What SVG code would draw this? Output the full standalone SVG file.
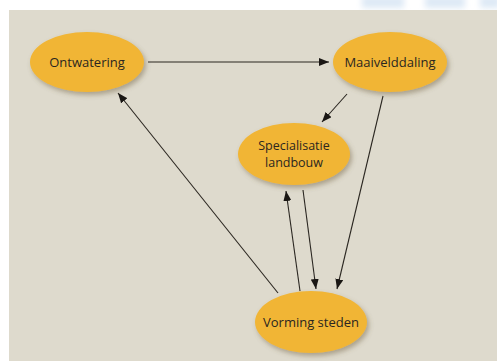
<svg xmlns="http://www.w3.org/2000/svg" width="497" height="361" viewBox="0 0 497 361">
<style>
.node ellipse{fill:#f1b535;filter:url(#sh)}
.node text{font-family:"Open Sans","Liberation Sans",sans-serif;font-size:13px;fill:#2b2620;text-anchor:middle}
.edges line{stroke:#2a2620;stroke-width:1.1;marker-end:url(#ah)}
</style>
<defs>
<marker id="ah" viewBox="0 0 10 8" refX="10" refY="4" markerWidth="10" markerHeight="8" markerUnits="userSpaceOnUse" orient="auto">
<path d="M0,0 L10,4 L0,8 Z" fill="#1a1714"/>
</marker>
<filter id="sh" x="-20%" y="-20%" width="150%" height="160%">
<feDropShadow dx="2" dy="3" stdDeviation="2.5" flood-color="#6b5a3a" flood-opacity="0.45"/>
</filter>
<filter id="bl"><feGaussianBlur stdDeviation="3"/></filter>
</defs>
<rect width="497" height="361" fill="#ffffff"/>
<g filter="url(#bl)" fill="#dde9f5">
<rect x="362" y="-4" width="42" height="12"/>
<rect x="425" y="-4" width="40" height="12"/>
<rect x="480" y="-4" width="20" height="12"/>
</g>
<rect x="9" y="10" width="490" height="355" fill="#dedacd"/>
<g class="edges">
<line x1="148" y1="62" x2="329" y2="62"/>
<line x1="347" y1="94" x2="322" y2="122"/>
<line x1="383" y1="96" x2="337" y2="289"/>
<line x1="303" y1="190" x2="316" y2="289"/>
<line x1="300" y1="291" x2="286" y2="191"/>
<line x1="278" y1="293" x2="118" y2="93"/>
</g>
<g id="ontwatering" class="node">
<ellipse cx="87" cy="62" rx="57" ry="30"/>
<text x="87" y="66.5">Ontwatering</text>
</g>
<g id="maaivelddaling" class="node">
<ellipse cx="390" cy="62" rx="57" ry="30"/>
<text x="390" y="66.5">Maaivelddaling</text>
</g>
<g id="specialisatie" class="node">
<ellipse cx="294" cy="154" rx="56" ry="31"/>
<text x="294" y="150" style="font-size:12.5px">Specialisatie</text>
<text x="294" y="167" style="font-size:12.5px">landbouw</text>
</g>
<g id="vorming" class="node">
<ellipse cx="311" cy="322" rx="56" ry="31"/>
<text x="311" y="327">Vorming steden</text>
</g>
</svg>
